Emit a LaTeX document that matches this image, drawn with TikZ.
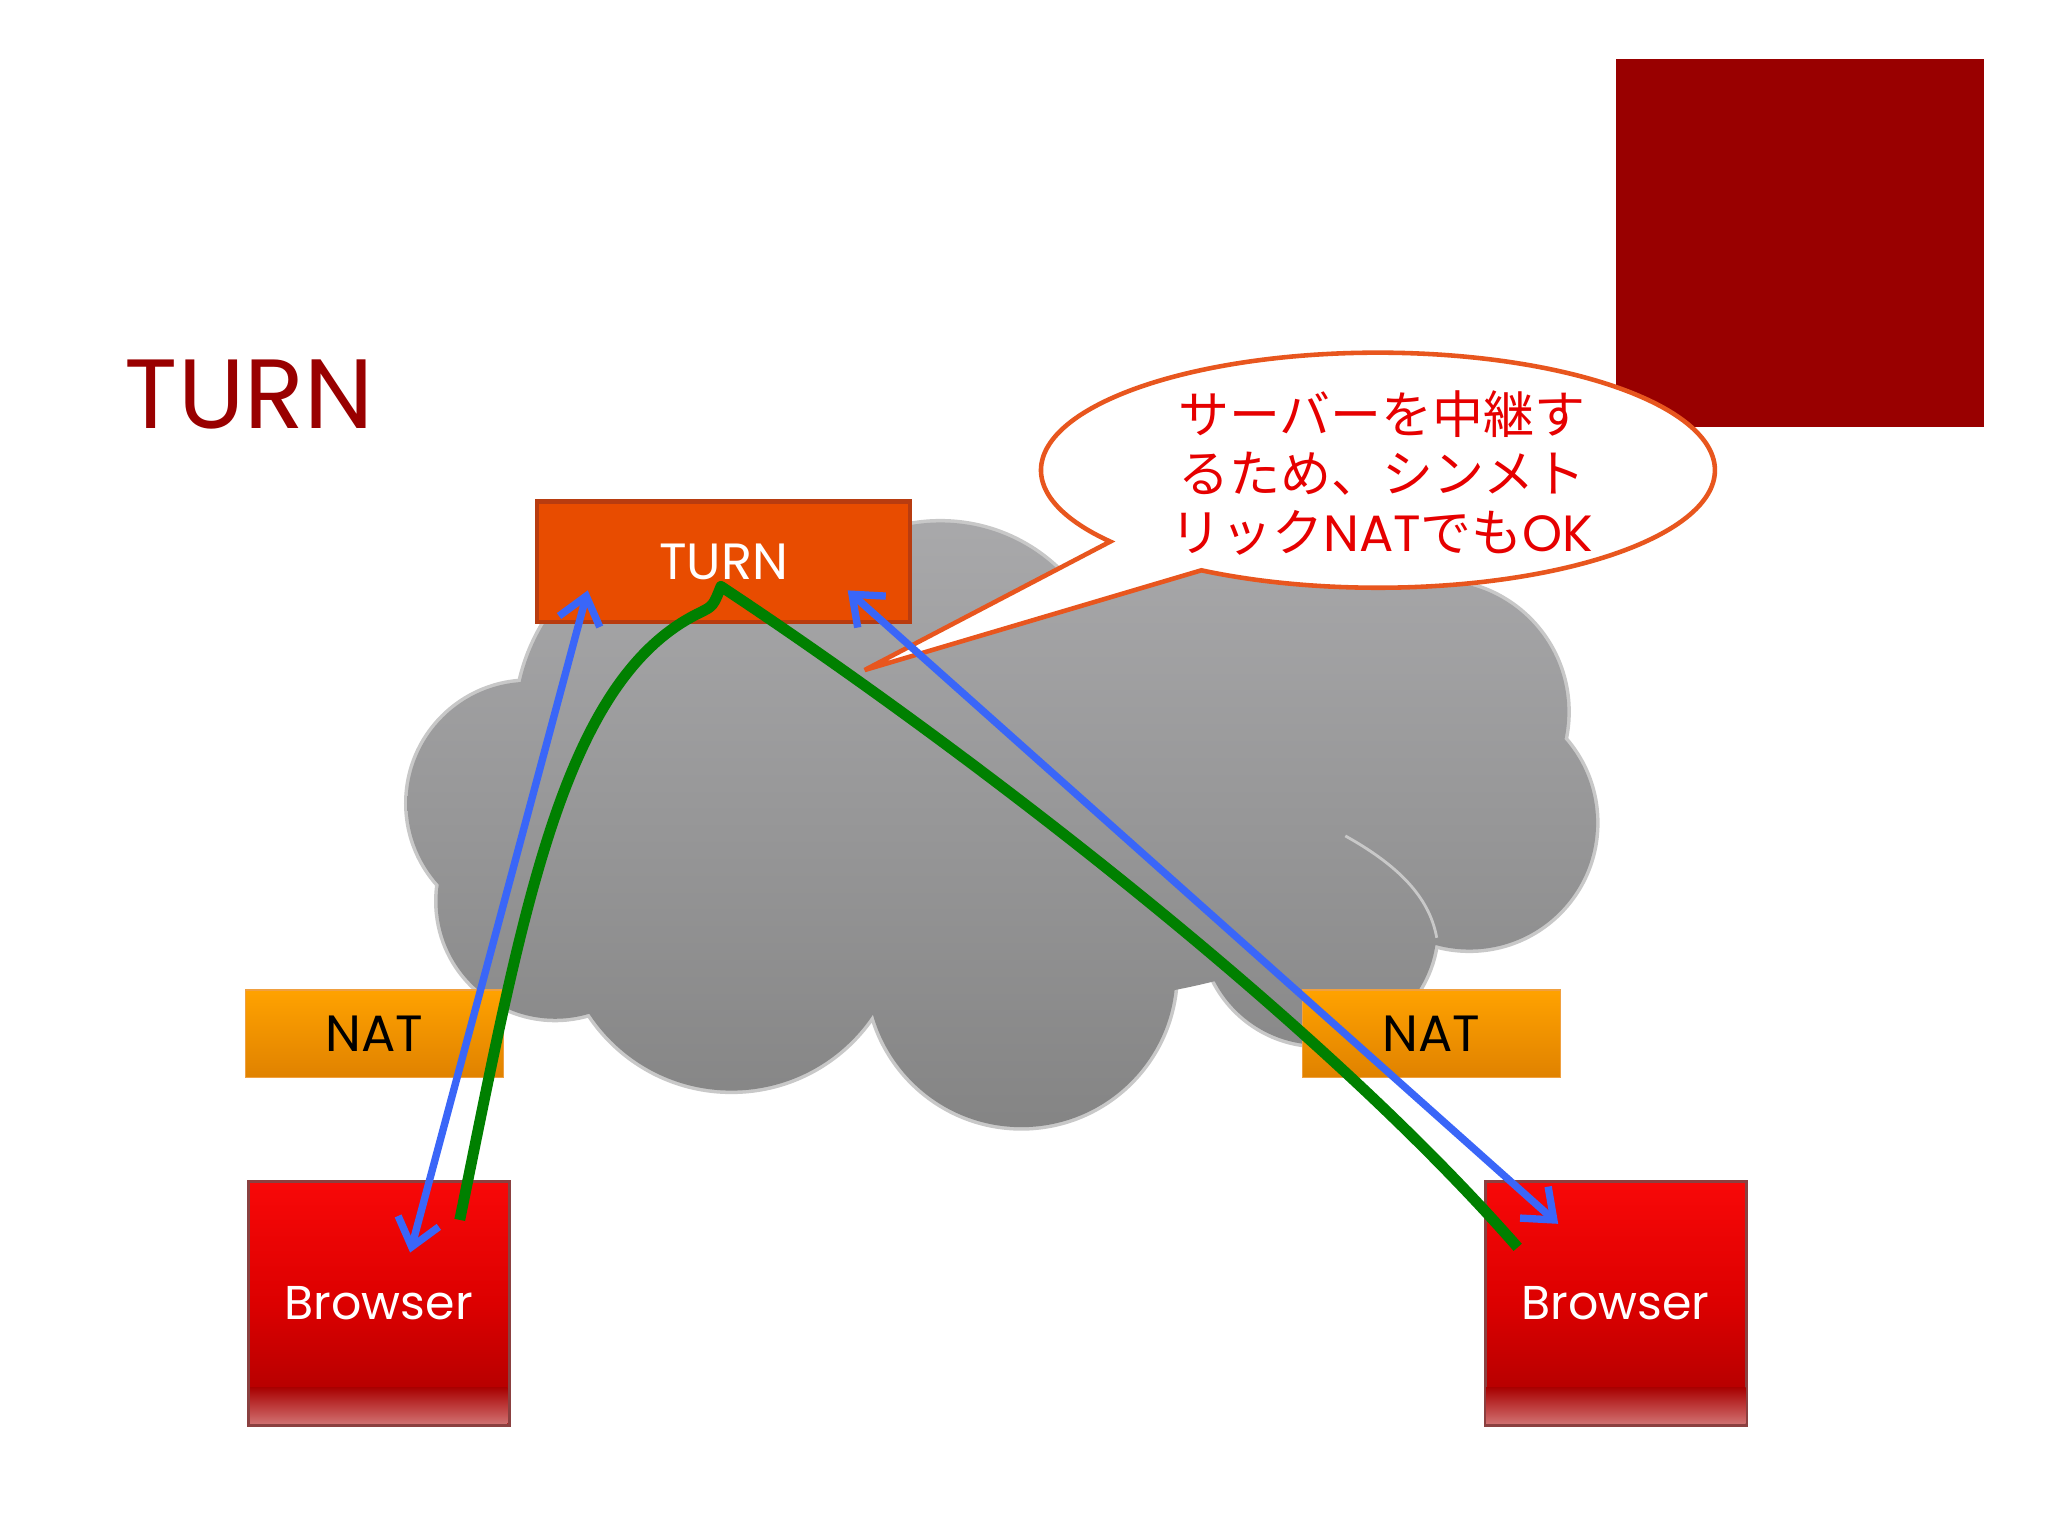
\documentclass[tikz,border=0pt]{standalone}
\usepackage{fontspec}
\setmainfont{Poppins}
\newfontfamily\jpfont{Noto Sans CJK JP}
\newfontfamily\latinfont{Poppins}
\usetikzlibrary{arrows.meta}
\definecolor{titlered}{HTML}{990000}
\definecolor{sqred}{HTML}{990000}
\definecolor{turnfill}{HTML}{E84C00}
\definecolor{turnedge}{HTML}{B83C10}
\definecolor{natTop}{HTML}{FFA200}
\definecolor{natBot}{HTML}{E08200}
\definecolor{natEdge}{HTML}{F0A040}
\definecolor{brTop}{HTML}{F80808}
\definecolor{brMid}{HTML}{DC0000}
\definecolor{brBot}{HTML}{A80000}
\definecolor{brEdge}{HTML}{8B4040}
\definecolor{brLow}{HTML}{D07070}
\definecolor{arrowblue}{HTML}{3A66F8}
\definecolor{pathgreen}{HTML}{008000}
\definecolor{cloudTop}{HTML}{AAAAAC}
\definecolor{cloudBot}{HTML}{848484}
\definecolor{cloudEdge}{HTML}{C8C8C8}
\definecolor{bubbleEdge}{HTML}{E8561E}
\definecolor{bubbleText}{HTML}{E60000}
\tikzset{
  turnbox/.style={fill=turnfill, draw=turnedge, line width=1.2pt, inner sep=0pt,
    minimum width=3.735cm, minimum height=1.2015cm, text=white,
    font=\fontsize{14.5}{18}\selectfont},
  natbox/.style={top color=natTop, bottom color=natBot, draw=natEdge, line width=0.4pt,
    inner sep=0pt, minimum width=2.58cm, minimum height=0.875cm, text=black,
    font=\fontsize{14.5}{17}\selectfont},
  browserbox/.style={top color=brTop, bottom color=brBot, middle color=brMid,
    draw=brEdge, line width=0.6pt, inner sep=0pt, minimum width=2.6cm,
    minimum height=2.429cm, text=white, font=\fontsize{13.5}{17}\selectfont},
  btext/.style={text=white, font=\fontsize{13.5}{17}\selectfont},
  bluearrow/.style={draw=arrowblue, line width=2.1pt,
    {Straight Barb[length=7.5pt,width=12pt]}-{Straight Barb[length=7.5pt,width=12pt]}},
  greenline/.style={draw=pathgreen, line width=3.1pt, line join=round},
  bubble/.style={fill=white, draw=bubbleEdge, line width=1.3pt, line join=miter},
  cloudline/.style={draw=cloudEdge, line width=2pt},
}
\begin{document}
\begin{tikzpicture}[x=0.01306cm, y=-0.01306cm]
\useasboundingbox[fill=white] (0,0) rectangle (1568,1176);

% title and decorative square
\node[anchor=base west, text=titlered, font=\fontsize{28}{34}\selectfont, inner sep=0pt] (title) at (95,328) {TURN};
\node[fill=sqred, minimum size=3.683cm, inner sep=0pt] (sq) at (1378,186) {};

% cloud outline (outer halves of strokes remain visible)
\draw[cloudline]
  (545,555) circle[radius=150]
  (720,530) circle[radius=130]
  (960,520) circle[radius=140]
  (1100,545) circle[radius=100]
  (1125,630) circle[radius=97]
  (1010,710) circle[radius=90]
  (782,745) circle[radius=118]
  (560,705) circle[radius=130]
  (425,690) circle[radius=90]
  (405,615) circle[radius=93];
\begin{scope}
\clip
  (545,555) circle[radius=150]
  (720,530) circle[radius=130]
  (960,520) circle[radius=140]
  (1100,545) circle[radius=100]
  (1125,630) circle[radius=97]
  (1010,710) circle[radius=90]
  (782,745) circle[radius=118]
  (560,705) circle[radius=130]
  (425,690) circle[radius=90]
  (405,615) circle[radius=93]
  (770,610) ellipse[x radius=340, y radius=160];
\shade[top color=cloudTop, bottom color=cloudBot] (300,380) rectangle (1240,870);
\end{scope}
% faint inner lobe arc
\draw[cloudEdge, line width=0.8pt] (1030,640) .. controls (1075,665) and (1095,690) .. (1100,718);

% boxes
\node[turnbox] (turn) at (554,430) {TURN};
\node[natbox] (natL) at (286.5,791.5) {NAT};
\node[natbox] (natR) at (1096,791.5) {NAT};
\node[browserbox] (brL) at (290,998) {};
\node[browserbox] (brR) at (1237,998) {};
\shade[top color=brBot, bottom color=brLow] (191.5,1062) rectangle (388.5,1090);
\shade[top color=brBot, bottom color=brLow] (1137.5,1062) rectangle (1336.5,1090);
\draw[brEdge, line width=0.6pt] (brL.north west) rectangle (brL.south east);
\draw[brEdge, line width=0.6pt] (brR.north west) rectangle (brR.south east);
\node[btext] (brLt) at (brL) {Browser};
\node[btext] (brRt) at (brR) {Browser};

% speech bubble
\coordinate (tailtip) at (662,513);
\filldraw[bubble] plot[domain=238.4:577.4, samples=260] ({1055+258*cos(\x)},{360-90*sin(\x)}) -- (tailtip) -- cycle;
\node[text=bubbleText, align=center, font=\jpfont\fontsize{14.5}{16.8}\selectfont, inner sep=0pt] (note) at (1058,362)
  {サーバーを中継す\\るため、シンメト\\リック{\latinfont NAT}でも{\latinfont OK}};

% connectors
\coordinate (tL) at (450,452);
\coordinate (bL) at (314,959);
\coordinate (tR) at (649,452);
\coordinate (bR) at (1193,937);
\coordinate (gL) at (352,934);
\coordinate (gP) at (552,449);
\coordinate (gR) at (1162,955);
\draw[bluearrow] (bL) -- (tL);
\draw[bluearrow] (tR) -- (bR);
\draw[greenline] (gL) .. controls (400,700) and (430,520) .. (536,469)
  .. controls (546,464) .. (gP)
  .. controls (720,560) and (1000,770) .. (gR);
\end{tikzpicture}
\end{document}
